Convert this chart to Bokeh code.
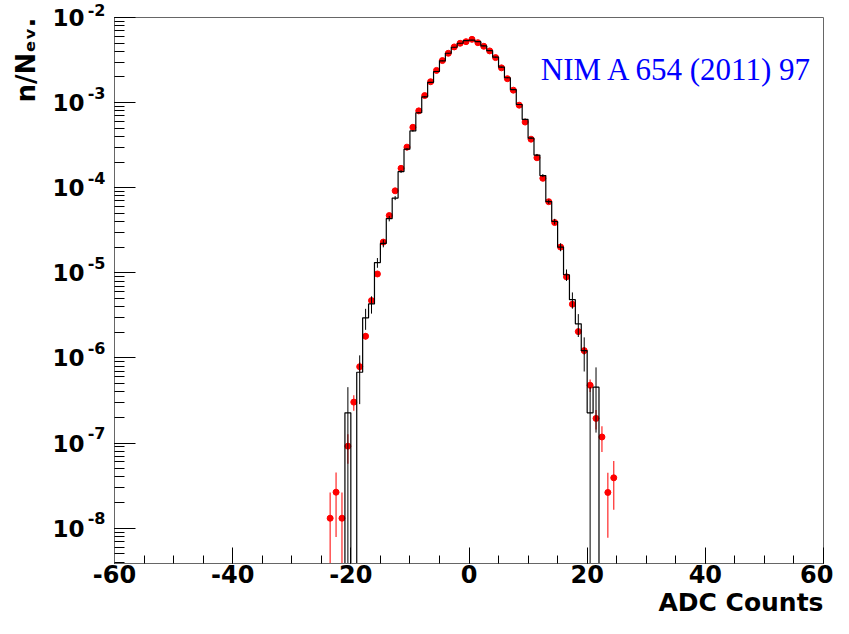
import numpy as np
from bokeh.plotting import figure
from bokeh.models import (Range1d, Label, Title, SingleIntervalTicker, LogTicker,
                          LogAxis, CustomJSTickFormatter)
from bokeh.embed import file_html
from bokeh.resources import INLINE

# ---- data (n / N_ev per ADC bin) ----
red_x = [-23.5, -22.5, -21.5, -20.5, -19.5, -18.5, -17.5, -16.5, -15.5, -14.5,
         -13.5, -12.5, -11.5, -10.5, -9.5, -8.5, -7.5, -6.5, -5.5, -4.5,
         -3.5, -2.5, -1.5, -0.5, 0.5, 1.5, 2.5, 3.5, 4.5, 5.5,
         6.5, 7.5, 8.5, 9.5, 10.5, 11.5, 12.5, 13.5, 14.5, 15.5,
         16.5, 17.5, 18.5, 19.5, 20.5, 21.5, 22.5, 23.5, 24.5]
red_y = [1.31e-8, 2.65e-8, 1.31e-8, 9.2e-8, 3.03e-7, 7.9e-7, 1.80e-6, 4.72e-6, 9.7e-6, 2.30e-5,
         4.71e-5, 9.2e-5, 1.69e-4, 3.00e-4, 5.13e-4, 8.0e-4, 1.21e-3, 1.76e-3, 2.39e-3, 3.12e-3,
         3.80e-3, 4.51e-3, 4.98e-3, 5.20e-3, 5.54e-3, 5.06e-3, 4.59e-3, 4.05e-3, 3.38e-3, 2.56e-3,
         1.91e-3, 1.40e-3, 9.33e-4, 5.91e-4, 3.72e-4, 2.25e-4, 1.29e-4, 6.85e-5, 3.90e-5, 2.01e-5,
         8.98e-6, 4.28e-6, 2.04e-6, 1.22e-6, 4.78e-7, 1.95e-7, 1.18e-7, 2.63e-8, 3.91e-8]

hist_centers = [-24.5, -23.5, -22.5, -21.5, -20.5, -19.5, -18.5, -17.5, -16.5, -15.5,
                -14.5, -13.5, -12.5, -11.5, -10.5, -9.5, -8.5, -7.5, -6.5, -5.5,
                -4.5, -3.5, -2.5, -1.5, -0.5, 0.5, 1.5, 2.5, 3.5, 4.5,
                5.5, 6.5, 7.5, 8.5, 9.5, 10.5, 11.5, 12.5, 13.5, 14.5,
                15.5, 16.5, 17.5, 18.5, 19.5, 20.5, 21.5, 22.5, 23.5, 24.5]
hist_vals = [0, 0, 0, 0, 2.27e-7, 0, 6.8e-7, 2.96e-6, 4.31e-6, 1.32e-5,
             2.22e-5, 4.34e-5, 7.57e-5, 1.55e-4, 2.84e-4, 4.65e-4, 7.60e-4, 1.17e-3, 1.73e-3, 2.32e-3,
             3.10e-3, 3.80e-3, 4.47e-3, 4.98e-3, 5.34e-3, 5.43e-3, 5.20e-3, 4.63e-3, 4.08e-3, 3.42e-3,
             2.61e-3, 1.96e-3, 1.42e-3, 9.5e-4, 6.35e-4, 3.82e-4, 2.42e-4, 1.39e-4, 6.85e-5, 4.01e-5,
             2.01e-5, 9.5e-6, 4.84e-6, 2.52e-6, 1.22e-6, 2.27e-7, 4.54e-7, 0, 0, 0]

# events behind each normalised series (Poisson error bars)
N_RED = 7.63e7
N_HIST = 4.4e6

x_label = "ADC Counts"
y_label = "n/N\u2091\u1d65."
ref_text = "NIM A 654 (2011) 97"

FONT = "DejaVu Sans"

p = figure(width=833, height=618, output_backend="svg", toolbar_location=None,
           x_range=Range1d(-60, 60), y_range=Range1d(3.85e-9, 1e-2),
           y_axis_type="log",
           min_border_left=114, min_border_right=10, min_border_top=17, min_border_bottom=55)
p.grid.visible = False
p.background_fill_color = "white"
p.border_fill_color = "white"
p.outline_line_color = "#666666"
p.outline_line_width = 1

floor = p.y_range.start * 1e-3

# red points with error bars
ry = np.array(red_y)
rerr = np.sqrt(ry / N_RED)
p.segment(red_x, np.maximum(ry - rerr, floor), red_x, ry + rerr,
          line_color="red", line_width=1.2, line_alpha=0.85)
p.scatter(red_x, red_y, size=6, marker="circle", fill_color="red", line_color="red")

# black histogram
hv = np.array(hist_vals, dtype=float)
hc = np.array(hist_centers)
hplot = np.where(hv > 0, hv, floor)
edges = hc - 0.5
step_x = np.concatenate([[edges[0]], edges, [edges[-1] + 1.0]])
step_y = np.concatenate([[floor], hplot, [floor]])
p.step(step_x, step_y, mode="after", line_color="black", line_width=1.2)

mask = hv > 0
herr = np.sqrt(hv[mask] / N_HIST)
p.segment(hc[mask], np.maximum(hv[mask] - herr, floor), hc[mask], hv[mask] + herr,
          line_color="black", line_width=1)

# ---- x axis ----
xa = p.xaxis[0]
xa.ticker = SingleIntervalTicker(interval=20, num_minor_ticks=4)
xa.formatter = CustomJSTickFormatter(code="return tick.toFixed(0)")
xa.major_tick_in = 16
xa.major_tick_out = 0
xa.minor_tick_in = 8
xa.minor_tick_out = 0
xa.axis_line_color = "#666666"
xa.major_tick_line_color = "black"
xa.minor_tick_line_color = "black"
xa.major_label_text_font = FONT
xa.major_label_text_font_style = "bold"
xa.major_label_text_font_size = "24px"
xa.major_label_text_color = "black"
xa.major_label_text_line_height = 1.0
xa.major_label_standoff = 1

# x axis title at the right end (ROOT style)
x_title = Title(text=x_label, align="right", text_font=FONT, text_font_style="bold",
                text_font_size="25px", text_color="black", standoff=0)
if "text_line_height" in x_title.properties():
    x_title.text_line_height = 1.0
p.add_layout(x_title, "below")

# ---- y axis: ticks + superscript exponents (raised half a line) ----
ya = p.yaxis[0]
ya.ticker = LogTicker(num_minor_ticks=10)
ya.formatter = CustomJSTickFormatter(code="""
const e = Math.round(Math.log10(tick));
return String(e) + '\\n ';
""")
ya.major_tick_in = 21
ya.major_tick_out = 0
ya.minor_tick_in = 10
ya.minor_tick_out = 0
ya.axis_line_color = "#666666"
ya.major_tick_line_color = "black"
ya.minor_tick_line_color = "black"
ya.major_label_text_font = FONT
ya.major_label_text_font_style = "bold"
ya.major_label_text_font_size = "16px"
ya.major_label_text_line_height = 1.0
ya.major_label_text_color = "black"
ya.major_label_standoff = 9

# outer axis carrying the "10" mantissas
ten_axis = LogAxis(ticker=LogTicker(num_minor_ticks=10),
                   formatter=CustomJSTickFormatter(code="return '10'"),
                   major_tick_in=0, major_tick_out=0, minor_tick_in=0, minor_tick_out=0,
                   axis_line_color=None, major_tick_line_color=None, minor_tick_line_color=None,
                   major_label_standoff=0,
                   major_label_text_font=FONT, major_label_text_font_style="bold",
                   major_label_text_font_size="23px", major_label_text_color="black")
p.add_layout(ten_axis, "left")

# y axis title at the top end (ROOT style)
p.add_layout(Title(text=y_label, align="right", text_font=FONT, text_font_style="bold",
                   text_font_size="26px", text_color="black", standoff=17), "left")

# reference text
p.add_layout(Label(x=12.15, y=2.48e-3, text=ref_text,
                   text_align="left", text_baseline="alphabetic",
                   text_font="Liberation Serif", text_font_size="31px",
                   text_color="#0000ff"))

open("out.html", "w").write(file_html(p, INLINE))
